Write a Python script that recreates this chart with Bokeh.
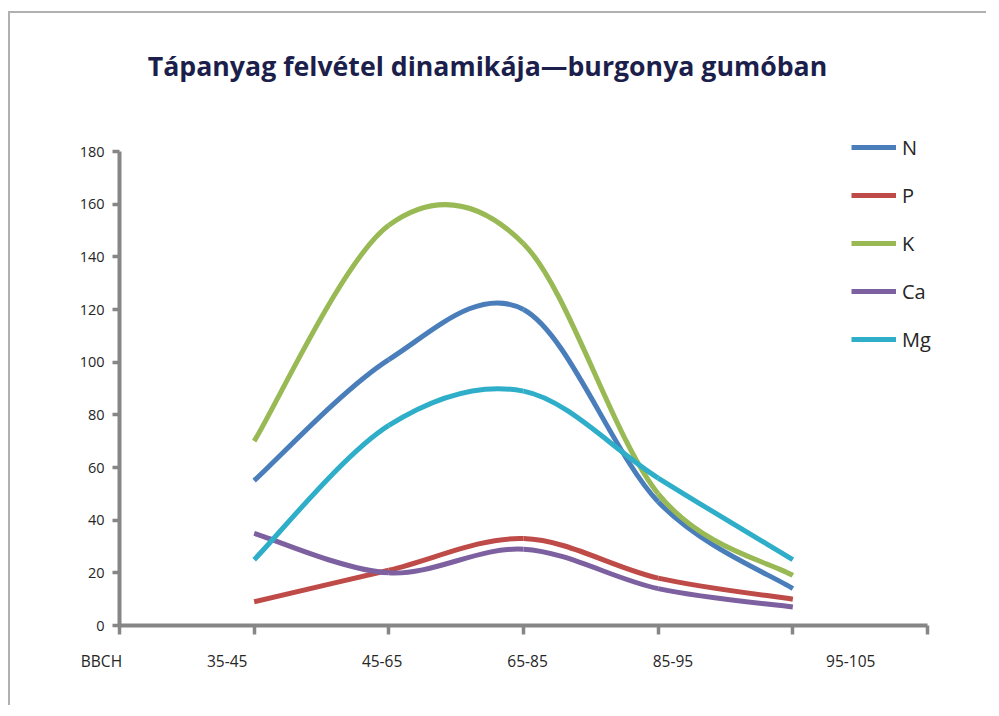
import numpy as np
from bokeh.plotting import figure
from bokeh.models import (Range1d, FixedTicker, Legend, LegendItem, Label,
                          LabelSet, ColumnDataSource, CustomJSTickFormatter)
from bokeh.core.properties import value
from bokeh.embed import file_html
from bokeh.resources import INLINE

# ---------------- data ----------------
categories = ["BBCH", "35-45", "45-65", "65-85", "85-95", "95-105"]
stage_idx = [1, 2, 3, 4, 5]
N = [55, 101, 120, 47, 14]
P = [9, 21, 33, 18, 10]
K = [70, 152, 145, 50, 19]
Ca = [35, 20, 29, 14, 7]
Mg = [25, 76, 89, 56, 25]
series_names = ["N", "P", "K", "Ca", "Mg"]
y_ticks = [0, 20, 40, 60, 80, 100, 120, 140, 160, 180]
title_text = "Tápanyag felvétel dinamikája—burgonya gumóban"

# ---------------- layout / style ----------------
colors = ["#4a7ebb", "#be4b48", "#98b954", "#7d60a0", "#2eaec9"]
label_pos = [-0.134, 0.80, 1.95, 3.03, 4.11, 5.43]
axis_color = "#868686"
text_color = "#262626"

W, H = 978, 694
MB_L, MB_R, MB_T, MB_B = 50, 0, 0, 30
canvas_x, canvas_y = 11, 13          # expected page position of canvas
px_x = 808 / 6.0                      # pixels per category step
px_y = 474 / 180.0                    # pixels per unit
x0_px, y0_px = 120, 625               # page pixel of data origin
fl, fr = canvas_x + MB_L, canvas_x + W - MB_R
ft, fb = canvas_y + MB_T, canvas_y + H - MB_B
x_range = Range1d((fl - x0_px) / px_x, (fr - x0_px) / px_x)
y_range = Range1d((y0_px - fb) / px_y, (y0_px - ft) / px_y)

p = figure(width=W, height=H, output_backend="svg", toolbar_location=None,
           x_range=x_range, y_range=y_range,
           min_border_left=MB_L, min_border_right=MB_R, min_border_top=MB_T,
           min_border_bottom=MB_B)
p.styles = {"border-top": "2px solid #b0b0b0", "border-left": "2px solid #b0b0b0",
            "margin-left": "8px", "margin-top": "11px",
            "padding-right": "8px", "padding-bottom": "8px"}
p.outline_line_color = None
p.xgrid.visible = False
p.ygrid.visible = False

# y axis
ya = p.yaxis[0]
ya.fixed_location = 0
ya.ticker = FixedTicker(ticks=y_ticks)
ya.bounds = (0, 180)
ya.axis_line_color = axis_color
ya.axis_line_width = 4
ya.major_tick_line_color = axis_color
ya.major_tick_line_width = 3.5
ya.major_tick_out = 7
ya.major_tick_in = 0
ya.minor_tick_line_color = None
ya.major_label_text_font = "Open Sans"
ya.major_label_text_font_size = "14.5px"
ya.major_label_text_color = text_color
ya.major_label_standoff = 8

# x axis
xa = p.xaxis[0]
xa.fixed_location = 0
xa.ticker = FixedTicker(ticks=[0, 1, 2, 3, 4, 5, 6])
xa.bounds = (0, 6)
xa.axis_line_color = axis_color
xa.axis_line_width = 4
xa.major_tick_line_color = axis_color
xa.major_tick_line_width = 3.5
xa.major_tick_out = 9
xa.major_tick_in = 0
xa.minor_tick_line_color = None
xa.major_label_standoff = 0
xa.major_label_text_font_size = "8px"
xa.formatter = CustomJSTickFormatter(code="return ''")

# smooth (Excel-like) bezier segments through the data points
def bez(xs, ys):
    xs = np.asarray(xs, float)
    ys = np.asarray(ys, float)
    n = len(xs)
    xp = np.concatenate([[xs[0]], xs, [xs[-1]]])
    yp = np.concatenate([[ys[0]], ys, [ys[-1]]])
    d = dict(x0=[], y0=[], x1=[], y1=[], cx0=[], cy0=[], cx1=[], cy1=[])
    for i in range(n - 1):
        j = i + 1
        d["x0"].append(xp[j]); d["y0"].append(yp[j])
        d["x1"].append(xp[j + 1]); d["y1"].append(yp[j + 1])
        d["cx0"].append(xp[j] + (xp[j + 1] - xp[j - 1]) / 6)
        d["cy0"].append(yp[j] + (yp[j + 1] - yp[j - 1]) / 6)
        d["cx1"].append(xp[j + 1] - (xp[j + 2] - xp[j]) / 6)
        d["cy1"].append(yp[j + 1] - (yp[j + 2] - yp[j]) / 6)
    return ColumnDataSource(d)

items = []
for name, vals, col in zip(series_names, [N, P, K, Ca, Mg], colors):
    r = p.bezier(x0="x0", y0="y0", x1="x1", y1="y1", cx0="cx0", cy0="cy0",
                 cx1="cx1", cy1="cy1", source=bez(stage_idx, vals),
                 line_color=col, line_width=5)
    items.append(LegendItem(label=name, renderers=[r]))

leg_left, leg_top = 852, 133.5
leg_h = 5 * 27 + 4 * 21
legend = Legend(items=items, location=(leg_left - fl, fb - (leg_top + leg_h)),
                orientation="vertical",
                glyph_width=45, glyph_height=20, label_height=20, spacing=21,
                padding=0, margin=0, label_standoff=6,
                label_text_font="Open Sans", label_text_font_size="20px",
                label_text_color=text_color, border_line_color=None,
                background_fill_alpha=0)
p.add_layout(legend)

# category labels under the axis
cat_y = (y0_px - 660) / px_y
cat_src = ColumnDataSource(dict(x=label_pos, y=[cat_y] * len(categories), text=categories))
p.add_layout(LabelSet(x="x", y="y", text="text", source=cat_src,
                      text_font=value("Open Sans"), text_font_size="15.5px",
                      text_color=text_color, text_align="center",
                      text_baseline="middle"))

# title
p.add_layout(Label(x=(488 - x0_px) / px_x, y=(y0_px - 65) / px_y, text=title_text,
                   text_align="center", text_baseline="middle",
                   text_font="Open Sans", text_font_style="bold",
                   text_font_size="26.7px", text_color="#1c1f4b"))

open("out.html", "w").write(file_html(p, INLINE))
